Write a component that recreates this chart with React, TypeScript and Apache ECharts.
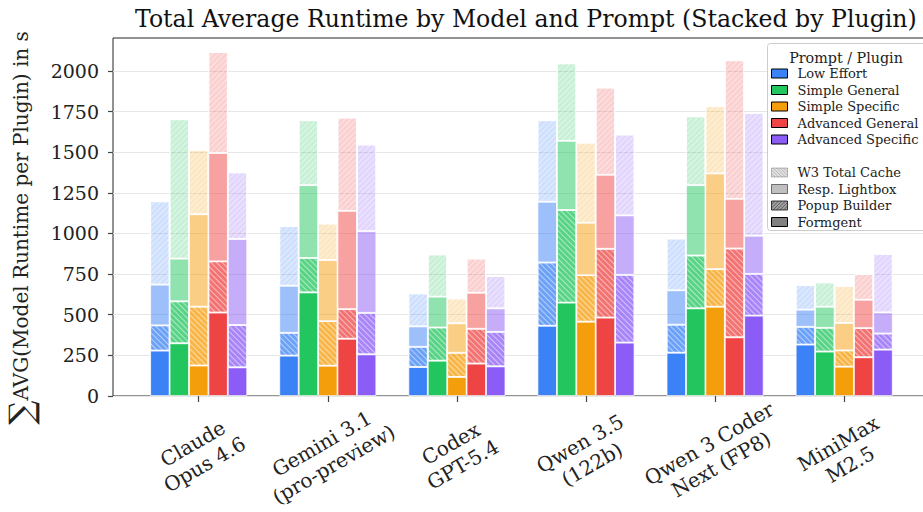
import React, { useEffect, useRef } from "react";
import * as echarts from "echarts";

const models = [
  "Claude\nOpus 4.6",
  "Gemini 3.1\n(pro-preview)",
  "Codex\nGPT-5.4",
  "Qwen 3.5\n(122b)",
  "Qwen 3 Coder\nNext (FP8)",
  "MiniMax\nM2.5",
];
const prompts = ["Low Effort", "Simple General", "Simple Specific", "Advanced General", "Advanced Specific"];
const promptColors = ["#3b82f6", "#22c55e", "#f59e0b", "#ef4444", "#8b5cf6"];
// plugins stacked bottom -> top
const plugins = ["Formgent", "Popup Builder", "Resp. Lightbox", "W3 Total Cache"];
const legendPluginOrder = ["W3 Total Cache", "Resp. Lightbox", "Popup Builder", "Formgent"];

// rows = prompts, cols = models (seconds)
const formgentRuntime = [
  [279, 248, 178, 432, 266, 316],
  [324, 637, 217, 574, 539, 273],
  [187, 186, 117, 457, 549, 180],
  [513, 352, 199, 482, 361, 238],
  [176, 256, 182, 328, 494, 285],
];
const popupBuilderRuntime = [
  [156, 141, 125, 390, 173, 110],
  [259, 213, 205, 571, 326, 147],
  [363, 275, 149, 287, 232, 101],
  [316, 183, 215, 424, 547, 180],
  [261, 256, 213, 418, 258, 100],
];
const lightboxRuntime = [
  [250, 289, 125, 373, 211, 105],
  [262, 447, 189, 425, 432, 129],
  [568, 375, 181, 322, 588, 168],
  [666, 604, 221, 455, 305, 174],
  [529, 502, 144, 365, 234, 129],
];
const w3CacheRuntime = [
  [513, 367, 203, 502, 319, 151],
  [858, 400, 260, 477, 424, 150],
  [396, 225, 153, 493, 414, 227],
  [622, 574, 211, 537, 853, 158],
  [410, 533, 199, 498, 756, 360],
];
const yTicks = [0, 250, 500, 750, 1000, 1250, 1500, 1750, 2000];
const yMax = 2203;

const titleText = "Total Average Runtime by Model and Prompt (Stacked by Plugin)";
const yName = "AVG(Model Runtime per Plugin) in s";
const legendTitle = "Prompt / Plugin";

const FONT = "'DejaVu Serif', serif";

function rgba(hex: string, a: number) {
  const n = parseInt(hex.slice(1), 16);
  return `rgba(${(n >> 16) & 255},${(n >> 8) & 255},${n & 255},${a})`;
}

const hatchFwd = {
  symbol: "rect",
  symbolSize: 1,
  dashArrayX: [1, 0],
  dashArrayY: [1, 2.8],
  rotation: Math.PI / 4,
  color: "rgba(255,255,255,0.5)",
};
const hatchBack = {
  symbol: "rect",
  symbolSize: 1,
  dashArrayX: [1, 0],
  dashArrayY: [1, 2.8],
  rotation: -Math.PI / 4,
  color: "rgba(255,255,255,0.45)",
};

const layerStyle: Record<string, { alpha: number; decal: any; legendHatch: string | null }> = {
  Formgent: { alpha: 1, decal: null, legendHatch: null },
  "Popup Builder": { alpha: 0.75, decal: hatchFwd, legendHatch: "/" },
  "Resp. Lightbox": { alpha: 0.5, decal: null, legendHatch: null },
  "W3 Total Cache": { alpha: 0.25, decal: hatchBack, legendHatch: "\\" },
};
const layerValues: Record<string, number[][]> = {
  Formgent: formgentRuntime,
  "Popup Builder": popupBuilderRuntime,
  "Resp. Lightbox": lightboxRuntime,
  "W3 Total Cache": w3CacheRuntime,
};

const LZ = 100;

function hatchLines(x0: number, y0: number, w: number, h: number, dir: string, color: string) {
  const out: any[] = [];
  const step = 3.5;
  for (let t = -h; t < w; t += step) {
    const s1 = Math.max(0, -t);
    const s2 = Math.min(h, w - t);
    if (s2 <= s1) continue;
    let a, b;
    if (dir === "/") {
      a = [x0 + t + s1, y0 + h - s1];
      b = [x0 + t + s2, y0 + h - s2];
    } else {
      a = [x0 + t + s1, y0 + s1];
      b = [x0 + t + s2, y0 + s2];
    }
    out.push({
      type: "line",
      silent: true,
      z: LZ + 2,
      shape: { x1: a[0], y1: a[1], x2: b[0], y2: b[1] },
      style: { stroke: color, lineWidth: 0.8 },
    });
  }
  return out;
}

function buildLegend() {
  const els: any[] = [];
  const bx = 767.5;
  const by = 43.5;
  els.push({
    type: "rect",
    silent: true,
    z: LZ,
    shape: { x: bx, y: by, width: 170, height: 187, r: 3 },
    style: { fill: "rgba(255,255,255,0.9)", stroke: "#cccccc", lineWidth: 1 },
  });
  els.push({
    type: "text",
    silent: true,
    z: LZ + 1,
    x: 846,
    y: 57.5,
    style: { text: legendTitle, font: `14.3px ${FONT}`, fill: "#222", align: "center", verticalAlign: "middle" },
  });
  const sx = 771.5;
  const sw = 16;
  const sh = 9;
  const tx = 797.5;
  prompts.forEach((p, i) => {
    const cy = 73.5 + 16.5 * i;
    els.push({
      type: "rect",
      silent: true,
      z: LZ + 1,
      shape: { x: sx, y: cy - sh / 2, width: sw, height: sh },
      style: { fill: promptColors[i], stroke: "#000", lineWidth: 1 },
    });
    els.push({
      type: "text",
      silent: true,
      z: LZ + 1,
      x: tx,
      y: cy,
      style: { text: p, font: `13px ${FONT}`, fill: "#222", align: "left", verticalAlign: "middle" },
    });
  });
  legendPluginOrder.forEach((pl, j) => {
    const cy = 172.5 + 16.5 * j;
    const st = layerStyle[pl];
    els.push({
      type: "rect",
      silent: true,
      z: LZ + 1,
      shape: { x: sx, y: cy - sh / 2, width: sw, height: sh },
      style: { fill: rgba("#808080", st.alpha), stroke: rgba("#000000", st.alpha), lineWidth: 1 },
    });
    if (st.legendHatch) {
      hatchLines(sx, cy - sh / 2, sw, sh, st.legendHatch, rgba("#333333", st.alpha)).forEach((l) => els.push(l));
    }
    els.push({
      type: "text",
      silent: true,
      z: LZ + 1,
      x: tx,
      y: cy,
      style: { text: pl, font: `13px ${FONT}`, fill: "#222", align: "left", verticalAlign: "middle" },
    });
  });
  return els;
}

export default function App() {
  const ref = useRef<HTMLDivElement>(null);
  useEffect(() => {
    if (!ref.current) return;
    const chart = echarts.init(ref.current, null, { renderer: "svg" });
    const series: any[] = [];
    prompts.forEach((p, pi) => {
      plugins.forEach((pl) => {
        const st = layerStyle[pl];
        series.push({
          type: "bar",
          name: `${p} | ${pl}`,
          stack: p,
          xAxisIndex: 1,
          yAxisIndex: 1,
          barWidth: 19.4,
          barGap: "0%",
          silent: true,
          data: layerValues[pl][pi],
          itemStyle: {
            color: rgba(promptColors[pi], st.alpha),
            borderColor: "rgba(255,255,255,0.95)",
            borderWidth: 0.8,
            decal: st.decal || undefined,
          },
        });
      });
    });
    const option: any = {
      animation: false,
      backgroundColor: "#ffffff",
      textStyle: { fontFamily: FONT },
      title: {
        text: titleText,
        left: 130,
        top: 2,
        textStyle: { fontFamily: FONT, fontSize: 23.6, fontWeight: "normal", color: "#111" },
      },
      grid: [
        {
          left: 113,
          top: 38,
          width: 830,
          height: 358,
          show: true,
          borderColor: "#262626",
          borderWidth: 1,
          backgroundColor: "transparent",
          outerBoundsMode: "none",
          containLabel: false,
        },
        {
          left: 134.15,
          top: 38,
          width: 774.6,
          height: 358,
          outerBoundsMode: "none",
          containLabel: false,
        },
      ],
      xAxis: [
        { type: "value", gridIndex: 0, min: 0, max: 1, show: false },
        {
          type: "category",
          gridIndex: 1,
          data: models,
          axisLine: { show: false },
          axisTick: { show: true, alignWithLabel: true, length: 6, lineStyle: { color: "#444", width: 1.2 } },
          axisLabel: {
            interval: 0,
            rotate: 30,
            align: "center",
            verticalAlign: "middle",
            margin: 58,
            fontSize: 20,
            lineHeight: 24,
            fontFamily: FONT,
            color: "#222",
          },
          splitLine: { show: false },
        },
      ],
      yAxis: [
        {
          type: "value",
          gridIndex: 0,
          min: 0,
          max: yMax,
          interval: 250,
          name: `{s|∑}${yName}`,
          nameLocation: "middle",
          nameGap: 75,
          nameTextStyle: {
            fontFamily: FONT,
            fontSize: 20,
            color: "#222",
            padding: [0, 22, 0, 0],
            rich: { s: { fontFamily: FONT, fontSize: 34, color: "#222" } },
          },
          axisLine: { show: false },
          axisTick: { show: true, length: 5, customValues: yTicks, lineStyle: { color: "#444", width: 1.2 } },
          axisLabel: {
            customValues: yTicks,
            formatter: (v: number) => String(v),
            fontSize: 19,
            fontFamily: FONT,
            color: "#222",
            margin: 14,
          },
          splitLine: { show: true, lineStyle: { color: "#e6e6e6", width: 1 } },
        },
        { type: "value", gridIndex: 1, min: 0, max: yMax, show: false, splitLine: { show: false } },
      ],
      series,
      graphic: buildLegend(),
    };
    chart.setOption(option);
    return () => chart.dispose();
  }, []);
  return <div ref={ref} style={{ position: "fixed", left: 0, top: 0, width: 923, height: 512 }} />;
}
